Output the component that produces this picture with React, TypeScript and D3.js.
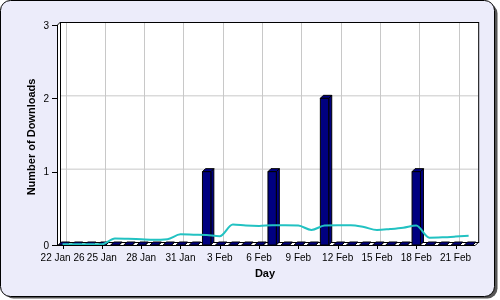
import React from "react";
import * as d3 from "d3";

const days = [
  "22 Jan", "23 Jan", "24 Jan", "25 Jan", "26 Jan", "27 Jan", "28 Jan", "29 Jan",
  "30 Jan", "31 Jan", "1 Feb", "2 Feb", "3 Feb", "4 Feb", "5 Feb", "6 Feb",
  "7 Feb", "8 Feb", "9 Feb", "10 Feb", "11 Feb", "12 Feb", "13 Feb", "14 Feb",
  "15 Feb", "16 Feb", "17 Feb", "18 Feb", "19 Feb", "20 Feb", "21 Feb", "22 Feb",
];
const downloads = [
  0, 0, 0, 0, 0, 0, 0, 0,
  0, 0, 0, 1, 0, 0, 0, 0,
  1, 0, 0, 0, 2, 0, 0, 0,
  0, 0, 0, 1, 0, 0, 0, 0,
];
const trend = [
  0.01, 0.01, 0.01, 0.01, 0.09, 0.085, 0.078, 0.072,
  0.08, 0.145, 0.14, 0.135, 0.12, 0.28, 0.265, 0.26,
  0.27, 0.27, 0.265, 0.205, 0.265, 0.27, 0.27, 0.245,
  0.205, 0.218, 0.236, 0.266, 0.1, 0.105, 0.115, 0.127,
];
const tickDays = ["22 Jan", "25 Jan", "28 Jan", "31 Jan", "3 Feb", "6 Feb", "9 Feb", "12 Feb", "15 Feb", "18 Feb", "21 Feb"];
const tickLabels = ["22 Jan 26", "25 Jan", "28 Jan", "31 Jan", "3 Feb", "6 Feb", "9 Feb", "12 Feb", "15 Feb", "18 Feb", "21 Feb"];
const yTicks = [0, 1, 2, 3];

const W = 500;
const H = 300;
const D = 3; // 3D depth
const X0 = 57;
const Y0 = 245;
const YTOP = 25;
const FONT = "'Liberation Sans', Arial, sans-serif";

export default function App() {
  const x = d3.scaleBand<string>().domain(days).range([56, 475.2]).padding(0);
  const y = d3.scaleLinear().domain([0, 3]).range([Y0, YTOP]);
  const step = x.bandwidth();
  const bw = step * 0.64;
  const cx = (d: string) => (x(d) as number) + step / 2;
  const xRight = 475.2;

  const line = d3
    .line<number>()
    .x((_, i) => cx(days[i]))
    .y((v) => y(v))
    .curve(d3.curveMonotoneX);

  const NAVY = "#000080";

  return (
    <svg
      width={W}
      height={H}
      style={{ position: "fixed", left: 0, top: 0, display: "block" }}
      fontFamily={FONT}
    >
      {/* frame */}
      <rect x={3.5} y={3.5} width={494} height={295} rx={10} fill="#555" />
      <rect x={0.5} y={0.5} width={494} height={296} rx={10} fill="#ECECFA" stroke="#000" />

      {/* back wall */}
      <rect x={X0 + D} y={YTOP - D} width={xRight + D - (X0 + D)} height={Y0 - YTOP} fill="#fff" />
      {/* left wall + floor */}
      <polygon
        points={`${X0},${YTOP} ${X0 + D},${YTOP - D} ${X0 + D},${Y0 - D} ${xRight + D},${Y0 - D} ${xRight},${Y0} ${X0},${Y0}`}
        fill="#fff"
      />
      {/* grid */}
      {yTicks.slice(1, 3).map((t) => (
        <line key={"gy" + t} x1={X0 + D} x2={xRight + D} y1={y(t) - D + 0.5} y2={y(t) - D + 0.5} stroke="#c8c8c8" />
      ))}
      {tickDays.map((d) => (
        <line key={"gx" + d} x1={Math.round(cx(d)) + D + 0.5} x2={Math.round(cx(d)) + D + 0.5} y1={YTOP - D} y2={Y0 - D} stroke="#c8c8c8" />
      ))}
      <rect x={X0 + D + 0.5} y={YTOP - D + 0.5} width={xRight - X0} height={Y0 - YTOP} fill="none" stroke="#000" />
      <line x1={X0 + 0.5} y1={YTOP} x2={X0 + D + 0.5} y2={YTOP - D} stroke="#000" />

      {/* bars */}
      {days.map((d, i) => {
        const v = downloads[i];
        const xl = cx(d) - bw / 2;
        const xr = cx(d) + bw / 2;
        const yt = y(v);
        return (
          <g key={"b" + d} stroke="#000" strokeWidth={1} fill={NAVY} strokeLinejoin="round">
            <polygon points={`${xr},${yt} ${xr + D},${yt - D} ${xr + D},${Y0 - D} ${xr},${Y0}`} />
            <polygon points={`${xl},${yt} ${xl + D},${yt - D} ${xr + D},${yt - D} ${xr},${yt}`} />
            <rect x={xl} y={yt} width={bw} height={Y0 - yt} />
          </g>
        );
      })}

      {/* trend line */}
      <path d={line(trend) || ""} fill="none" stroke="#22C2C2" strokeWidth={2} />

      {/* axes */}
      <line x1={X0 + 0.5} x2={X0 + 0.5} y1={YTOP} y2={Y0} stroke="#000" />
      <line x1={X0} x2={xRight} y1={Y0 + 0.5} y2={Y0 + 0.5} stroke="#000" />
      <line x1={xRight} y1={Y0 + 0.5} x2={xRight + D} y2={Y0 - D + 0.5} stroke="#000" />

      {yTicks.map((t) => (
        <g key={"yt" + t}>
          <line x1={X0 - 5} x2={X0} y1={Math.round(y(t)) + 0.5} y2={Math.round(y(t)) + 0.5} stroke="#000" />
          <text x={X0 - 8} y={y(t) + 3.6} fontSize={10} textAnchor="end" fill="#000">
            {t}
          </text>
        </g>
      ))}
      {tickDays.map((d, i) => (
        <g key={"xt" + d}>
          <line x1={Math.round(cx(d)) + 0.5} x2={Math.round(cx(d)) + 0.5} y1={Y0} y2={Y0 + 4} stroke="#000" />
          <text x={cx(d)} y={261} fontSize={10} textAnchor="middle" fill="#000">
            {tickLabels[i]}
          </text>
        </g>
      ))}

      <text x={265} y={277} fontSize={11} fontWeight="bold" textAnchor="middle" fill="#000">
        Day
      </text>
      <text
        transform={`translate(35,137) rotate(-90)`}
        fontSize={11}
        fontWeight="bold"
        textAnchor="middle"
        fill="#000"
      >
        Number of Downloads
      </text>
    </svg>
  );
}
